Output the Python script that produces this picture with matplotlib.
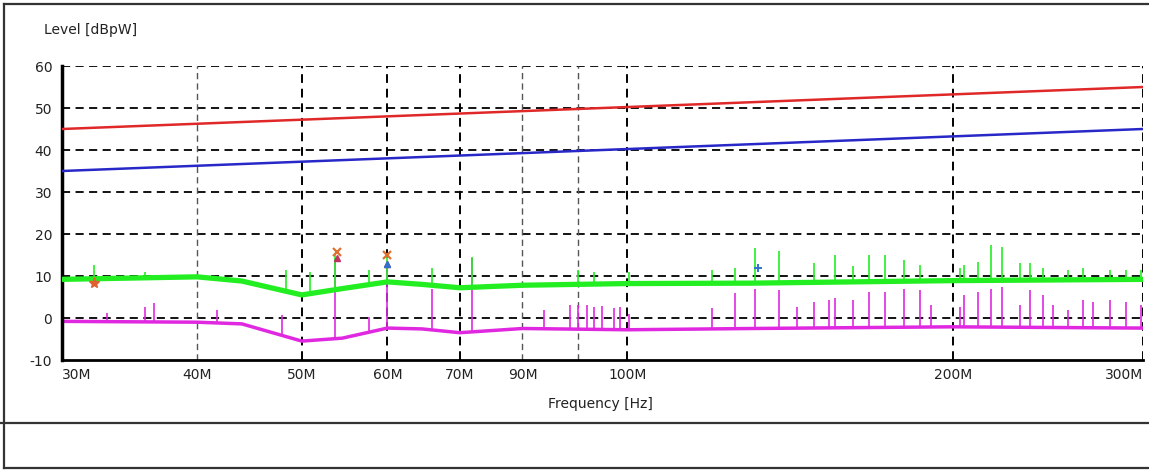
"""EMI spectrum plot: limit lines plus peak / average traces on a log frequency axis."""
import matplotlib
matplotlib.use("Agg")
import matplotlib.pyplot as plt
from matplotlib.lines import Line2D
import numpy as np

# limit lines (MHz, dBpW)
limit_freq = [30, 300]
limit_red = [45, 55]
limit_blue = [35, 45]

# noise floor of the two traces (MHz, dBpW)
floor_freq = [30, 40, 44, 50, 54.5, 60, 64.6, 70, 80, 100, 130.5, 200, 300]
green_floor = [9.2, 9.8, 8.8, 5.5, 7.0, 8.6, 8.0, 7.2, 7.8, 8.2, 8.3, 8.9, 9.2]
magenta_floor = [-0.8, -1.0, -1.4, -5.5, -4.8, -2.4, -2.6, -3.5, -2.5, -2.8, -2.5, -2.1, -2.4]

# spikes on the green trace (MHz, peak dBpW)
green_spk_freq = [32.1, 35.8, 48.3, 50.9, 53.7, 57.7, 60.0, 66.0, 71.8, 90.1, 93.2, 100.4,
                  119.9, 125.9, 131.4, 138.3, 149.0, 155.8, 161.6, 167.5, 173.3, 180.5,
                  186.7, 203.0, 205.1, 210.9, 216.8, 222.4, 230.7, 235.6, 242.3, 255.5,
                  263.9, 279.5, 289.2, 298.5]
green_spk_peak = [12.6, 11.0, 11.5, 11.0, 15.5, 11.5, 15.0, 12.0, 14.5, 11.5, 11.0, 11.0,
                  11.5, 12.0, 16.7, 16.0, 13.0, 15.0, 12.5, 15.0, 15.0, 13.8,
                  12.6, 12.0, 12.6, 13.3, 17.4, 17.0, 13.0, 13.0, 12.0, 11.5,
                  12.0, 11.5, 11.5, 11.5]

# spikes on the magenta trace (MHz, peak dBpW)
mag_spk_freq = [33.0, 35.8, 36.5, 41.7, 47.9, 53.7, 57.7, 60.0, 66.0, 71.8, 83.8, 88.6,
                90.1, 91.8, 93.2, 94.8, 97.3, 98.5, 100.4, 119.9, 125.9, 131.4, 138.3,
                143.7, 149.0, 153.8, 155.8, 161.6, 167.5, 173.3, 180.5, 186.7, 190.8,
                203.0, 205.1, 210.9, 216.8, 222.4, 230.7, 235.6, 242.3, 247.5, 255.5,
                263.9, 269.6, 279.5, 289.2, 298.5]
mag_spk_peak = [1.2, 2.6, 3.6, 1.9, 0.7, 14.0, 0.3, 12.0, 7.0, 14.3, 2.0, 3.0,
                3.0, 3.0, 2.6, 2.8, 2.4, 2.6, 1.0, 2.4, 6.0, 7.0, 6.7,
                2.6, 3.8, 4.3, 4.8, 4.3, 6.2, 6.2, 7.0, 6.7, 3.0,
                2.6, 5.5, 6.2, 7.0, 7.4, 3.0, 6.7, 5.5, 3.0, 2.0,
                4.3, 3.8, 4.3, 3.8, 3.0]

# detector markers (MHz, dBpW)
mark_x_freq = [53.9, 60.0]
mark_x_level = [15.7, 15.0]
mark_tri_freq = [53.9, 60.0]
mark_tri_level = [14.3, 12.8]
mark_star = (32.1, 8.3)
mark_plus = (132.0, 12.0)

x_ticks = [30, 40, 50, 60, 70, 80, 100, 200, 300]
x_labels = ["30M", "40M", "50M", "60M", "70M", "90M", "100M", "200M", "300M"]
y_ticks = [-10, 0, 10, 20, 30, 40, 50, 60]

RED = "#e02828"
BLUE = "#2828c8"
GREEN = "#22ee22"
MAGENTA = "#e028e0"

plt.rcParams["font.family"] = ["DejaVu Sans"]
plt.rcParams["axes.unicode_minus"] = False

fig = plt.figure(figsize=(11.49, 4.70), dpi=100)
ax = fig.add_axes([62 / 1149, 1 - 360 / 470, (1143 - 62) / 1149, (360 - 66) / 470])
ax.set_xscale("log")
ax.set_xlim(30, 300)
ax.set_ylim(-10, 60)

# grid drawn by hand so that top / right edges look dashed
dash = (0, (4.5, 3))
for y in y_ticks[1:]:
    ax.axhline(y, color="black", lw=1.3, ls=dash, zorder=1)
for f in [40, 50, 60, 70, 80, 90, 100, 200, 300]:
    light = f in (40, 80, 90)
    ax.axvline(f, color="#555555" if light else "black", lw=1.0 if light else 1.4,
               ls=dash, zorder=1)

ax.plot(limit_freq, limit_red, color=RED, lw=1.8, zorder=3)
ax.plot(limit_freq, limit_blue, color=BLUE, lw=1.8, zorder=3)

lf = np.log10(floor_freq)
g_base = np.interp(np.log10(green_spk_freq), lf, green_floor)
m_base = np.interp(np.log10(mag_spk_freq), lf, magenta_floor)

ax.vlines(mag_spk_freq, m_base, mag_spk_peak, color=MAGENTA, lw=1.2, zorder=2)
ax.plot(floor_freq, magenta_floor, color=MAGENTA, lw=2.5, zorder=2)
ax.vlines(green_spk_freq, g_base, green_spk_peak, color=GREEN, lw=1.2, zorder=3)
ax.plot(floor_freq, green_floor, color=GREEN, lw=3.8, zorder=3)

ax.plot(mark_x_freq, mark_x_level, ls="none", marker="x", ms=6, mew=1.6,
        color="#e07030", zorder=5)
ax.plot(mark_tri_freq, mark_tri_level, ls="none", marker="^", ms=5,
        color="#c03060", zorder=5)
ax.plot(mark_tri_freq[1], mark_tri_level[1], ls="none", marker="^", ms=5,
        color="#3070d0", zorder=5)
ax.plot(*mark_star, ls="none", marker="*", ms=8, color="#e06030", zorder=5)
ax.plot(*mark_plus, ls="none", marker="+", ms=6, mew=1.4, color="#3070d0", zorder=5)

ax.set_xticks(x_ticks)
ax.set_xticklabels(x_labels)
ax.xaxis.set_minor_locator(matplotlib.ticker.NullLocator())
ax.set_yticks(y_ticks)
ax.tick_params(length=0, labelsize=10, colors="#222222")
ax.tick_params(axis="x", pad=6)
ax.tick_params(axis="y", pad=7)
labels = ax.get_xticklabels()
labels[0].set_horizontalalignment("left")
labels[-1].set_horizontalalignment("right")

for side in ("top", "right"):
    ax.spines[side].set_visible(False)
ax.spines["left"].set_linewidth(2.5)
ax.spines["bottom"].set_linewidth(2.0)

fig.text(44 / 1149, 1 - 30 / 470, "Level [dBpW]", fontsize=10, va="center",
         color="#222222")
fig.text(600 / 1149, 1 - 404 / 470, "Frequency [Hz]", fontsize=10, ha="center",
         va="center", color="#222222")

# surrounding table frame
frame = dict(color="#333333", lw=1.6, transform=fig.transFigure)
fig.add_artist(Line2D([4 / 1149, 1], [1 - 4 / 470] * 2, **frame))
fig.add_artist(Line2D([4 / 1149] * 2, [1 - 4 / 470, 1 - 468 / 470], **frame))
fig.add_artist(Line2D([0, 1], [1 - 423 / 470] * 2, **frame))
fig.add_artist(Line2D([4 / 1149, 1], [1 - 468 / 470] * 2, **frame))

fig.savefig("out.png", dpi=100)
plt.close(fig)
